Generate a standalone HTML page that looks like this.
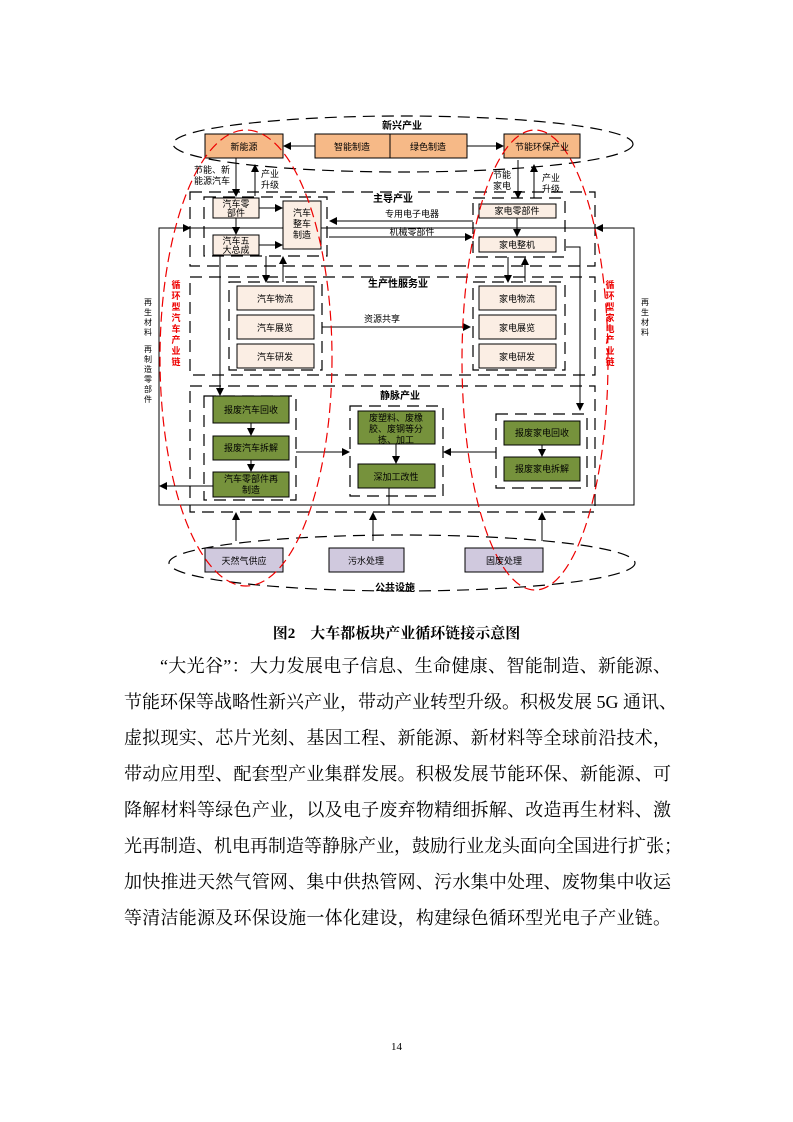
<!DOCTYPE html>
<html><head><meta charset="utf-8"><style>
body{margin:0;background:#fff;}
.p{position:absolute;left:0;top:0;width:793px;height:1122px;background:#fff;font-family:"Liberation Serif","Noto Serif CJK SC",serif;}
.ln{position:absolute;left:124px;width:547px;font-size:18px;text-align:justify;text-align-last:justify;white-space:nowrap;height:24px;line-height:24px;}
svg text{font-family:"Liberation Sans","Noto Sans CJK SC",sans-serif;}
</style></head><body><div class="p">
<svg width="793" height="620" style="position:absolute;left:0;top:0">
<defs><marker id="a" markerWidth="8" markerHeight="8" refX="7" refY="4" orient="auto" markerUnits="userSpaceOnUse"><path d="M0,0 L8,4 L0,8z" fill="#000"/></marker></defs>
<g fill="none" stroke="#000" stroke-width="1.2" stroke-dasharray="12,7">
<ellipse cx="403" cy="144" rx="230" ry="28"/>
<ellipse cx="402" cy="563" rx="233" ry="28"/>
<rect x="190" y="192" width="405" height="74"/>
<rect x="190" y="277" width="405" height="98"/>
<rect x="190" y="386" width="405" height="126"/>
<rect x="204" y="197" width="123" height="59"/>
<rect x="473" y="198" width="92" height="59"/>
<rect x="229" y="282" width="93" height="88"/>
<rect x="473" y="282" width="92" height="88"/>
<rect x="204" y="396" width="92" height="104"/>
<rect x="350" y="406" width="93" height="90"/>
<rect x="496" y="414" width="91" height="74"/>
</g>
<rect x="159" y="228" width="475" height="277" fill="none" stroke="#000" stroke-width="1"/>
<g stroke="#000" stroke-width="1">
<rect x="205" y="134" width="78" height="24" fill="#f6b987"/>
<rect x="315" y="134" width="75" height="24" fill="#f6b987"/>
<rect x="390" y="134" width="77" height="24" fill="#f6b987"/>
<rect x="504" y="134" width="76" height="24" fill="#f6b987"/>
<g fill="#fbeee4">
<rect x="213" y="198" width="46" height="20"/><rect x="213" y="235" width="46" height="20"/>
<rect x="283" y="201" width="38" height="48"/>
<rect x="479" y="204" width="77" height="14"/><rect x="479" y="237" width="77" height="15"/>
<rect x="237" y="286" width="77" height="24"/><rect x="237" y="315" width="77" height="24"/><rect x="237" y="344" width="77" height="24"/>
<rect x="479" y="286" width="77" height="24"/><rect x="479" y="315" width="77" height="24"/><rect x="479" y="344" width="77" height="24"/>
</g>
<g fill="#76923c">
<rect x="213" y="396" width="76" height="27"/><rect x="213" y="436" width="76" height="24"/><rect x="213" y="472" width="76" height="25"/>
<rect x="358" y="411" width="77" height="33"/><rect x="358" y="464" width="77" height="24"/>
<rect x="504" y="421" width="76" height="24"/><rect x="504" y="457" width="76" height="24"/>
</g>
<g fill="#d0c9de"><rect x="205" y="548" width="78" height="24"/><rect x="329" y="548" width="75" height="24"/><rect x="465" y="548" width="78" height="24"/></g>
</g>
<g stroke="#000" stroke-width="1" marker-end="url(#a)" fill="none">
<path d="M315,146 H284"/><path d="M467,146 H503"/>
<path d="M236,158 V196"/><path d="M255,196 V165"/>
<path d="M518,160 V198"/><path d="M534,198 V165"/>
<path d="M259,208 H282"/><path d="M259,245 H282"/><path d="M236,218 V234"/>
<path d="M473,221 H330"/><path d="M329,237 H472"/><path d="M517,218 V236"/>
<path d="M266,256 V282"/><path d="M283,282 V257"/>
<path d="M508,257 V282"/><path d="M525,282 V258"/>
<path d="M159,228 H190"/><path d="M634,228 H596"/>
<path d="M322,327 H470"/>
<path d="M220,255 V395"/><path d="M566,247 H580 V410"/>
<path d="M251,423 V435"/><path d="M251,460 V471"/>
<path d="M396,444 V463"/><path d="M542,445 V456"/>
<path d="M296,452 H349"/><path d="M496,452 H444"/>
<path d="M213,486 H160"/>
<path d="M236,541 V513"/><path d="M373,541 V513"/><path d="M542,541 V513"/>
</g>
<path d="M389,488 V505" stroke="#000"/>
<g fill="none" stroke="#e00" stroke-width="1.2" stroke-dasharray="10,5">
<ellipse cx="246" cy="358" rx="86" ry="228"/>
<ellipse cx="535" cy="360" rx="73" ry="230"/>
</g>
<g font-size="9" text-anchor="middle" fill="#000">
<text x="244" y="150">新能源</text><text x="352" y="150">智能制造</text><text x="428" y="150">绿色制造</text><text x="542" y="150">节能环保产业</text>
<text x="236" y="207">汽车零</text><text x="236" y="216">部件</text>
<text x="236" y="244">汽车五</text><text x="236" y="253">大总成</text>
<text x="302" y="216">汽车</text><text x="302" y="227">整车</text><text x="302" y="238">制造</text>
<text x="517" y="214">家电零部件</text><text x="517" y="248">家电整机</text>
<text x="275" y="302">汽车物流</text><text x="275" y="331">汽车展览</text><text x="275" y="360">汽车研发</text>
<text x="517" y="302">家电物流</text><text x="517" y="331">家电展览</text><text x="517" y="360">家电研发</text>
<text x="251" y="413">报废汽车回收</text><text x="251" y="451">报废汽车拆解</text>
<text x="251" y="482">汽车零部件再</text><text x="251" y="493">制造</text>
<text x="396" y="421">废塑料、废橡</text><text x="396" y="432">胶、废钢等分</text><text x="396" y="443">拣、加工</text>
<text x="396" y="480">深加工改性</text>
<text x="542" y="436">报废家电回收</text><text x="542" y="472">报废家电拆解</text>
<text x="244" y="564">天然气供应</text><text x="366" y="564">污水处理</text><text x="504" y="564">固废处理</text>
<text x="412" y="217">专用电子电器</text><text x="412" y="235">机械零部件</text><text x="382" y="322">资源共享</text>
<text x="212" y="173">节能、新</text><text x="212" y="184">能源汽车</text>
<text x="270" y="177">产业</text><text x="270" y="188">升级</text>
<text x="502" y="178">节能</text><text x="502" y="189">家电</text>
<text x="551" y="181">产业</text><text x="551" y="192">升级</text>
</g>
<g font-size="10" font-weight="bold" text-anchor="middle">
<text x="402" y="129">新兴产业</text><text x="393" y="202">主导产业</text><text x="398" y="287">生产性服务业</text>
<text x="400" y="399">静脉产业</text><text x="395" y="591">公共设施</text>
</g>
<g font-size="9" text-anchor="middle" fill="#e00" font-weight="bold">
<text x="176" y="288">循</text><text x="176" y="299">环</text><text x="176" y="310">型</text><text x="176" y="321">汽</text><text x="176" y="332">车</text><text x="176" y="343">产</text><text x="176" y="354">业</text><text x="176" y="365">链</text>
<text x="610" y="288">循</text><text x="610" y="299">环</text><text x="610" y="310">型</text><text x="610" y="321">家</text><text x="610" y="332">电</text><text x="610" y="343">产</text><text x="610" y="354">业</text><text x="610" y="365">链</text>
</g>
<g font-size="8" text-anchor="middle">
<text x="148" y="305">再</text><text x="148" y="315">生</text><text x="148" y="325">材</text><text x="148" y="335">料</text>
<text x="148" y="352">再</text><text x="148" y="362">制</text><text x="148" y="372">造</text><text x="148" y="382">零</text><text x="148" y="392">部</text><text x="148" y="402">件</text>
<text x="645" y="305">再</text><text x="645" y="315">生</text><text x="645" y="325">材</text><text x="645" y="335">料</text>
</g>
</svg>
<div style="position:absolute;top:622px;width:793px;text-align:center;font-size:15px;font-weight:bold;font-family:'Liberation Serif','Noto Serif CJK SC',serif">图2　大车都板块产业循环链接示意图</div>
<div class="ln" style="top:654px;left:160px;width:511px">“大光谷”：大力发展电子信息、生命健康、智能制造、新能源、</div>
<div class="ln" style="top:690px">节能环保等战略性新兴产业，带动产业转型升级。积极发展 5G 通讯、</div>
<div class="ln" style="top:726px">虚拟现实、芯片光刻、基因工程、新能源、新材料等全球前沿技术，</div>
<div class="ln" style="top:762px">带动应用型、配套型产业集群发展。积极发展节能环保、新能源、可</div>
<div class="ln" style="top:798px">降解材料等绿色产业，以及电子废弃物精细拆解、改造再生材料、激</div>
<div class="ln" style="top:834px">光再制造、机电再制造等静脉产业，鼓励行业龙头面向全国进行扩张；</div>
<div class="ln" style="top:870px">加快推进天然气管网、集中供热管网、污水集中处理、废物集中收运</div>
<div class="ln" style="top:906px">等清洁能源及环保设施一体化建设，构建绿色循环型光电子产业链。</div>
<div style="position:absolute;top:1041px;width:793px;text-align:center;font-size:11px">14</div>
</div></body></html>
